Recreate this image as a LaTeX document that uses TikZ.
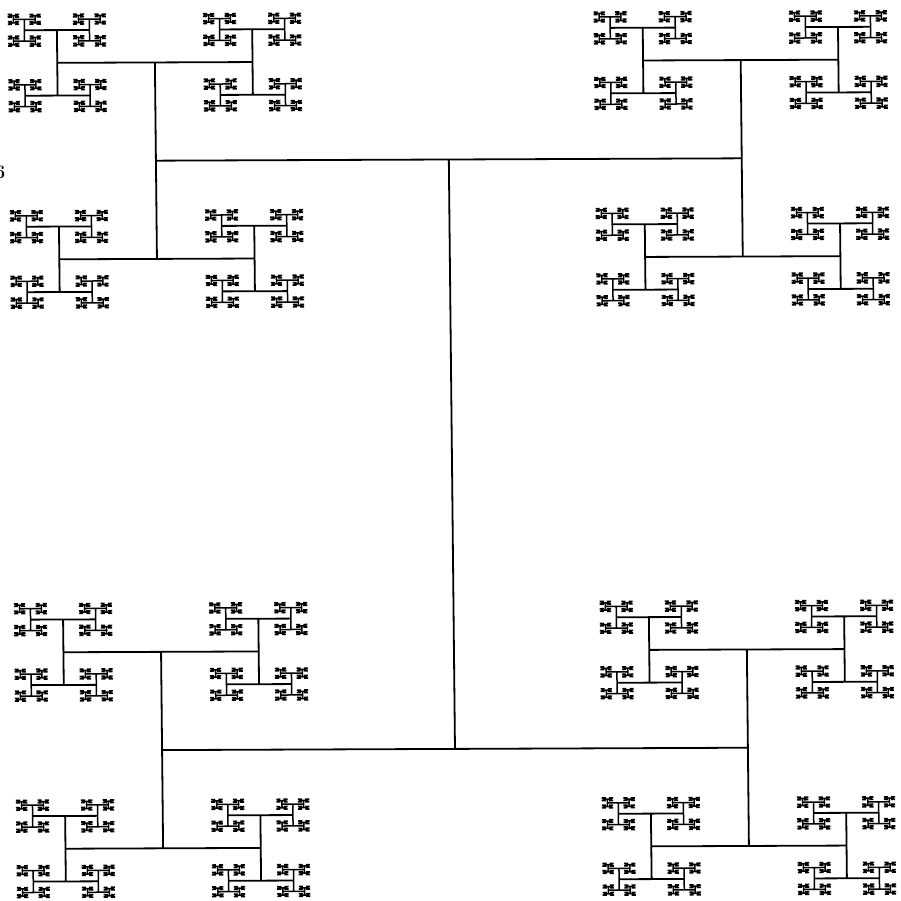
\documentclass[tikz,border=0pt]{standalone}
\tikzset{
  hbig/.style={line width=1.8pt, line cap=butt},
  hsmall/.style={line width=1.5pt, line cap=butt},
  htiny/.style={line width=1.7pt, line cap=rect},
  pagefrag/.style={font=\fontsize{19}{19}\selectfont\bfseries, inner sep=0pt}
}
\def\Htree#1#2#3#4{%
  \ifnum#4>2
    \draw[hbig] (#1,#2-#3) -- (#1,#2+#3) (#1-#3,#2-#3) -- (#1+#3,#2-#3) (#1-#3,#2+#3) -- (#1+#3,#2+#3);%
  \else
    \ifnum#4>0
      \draw[hsmall] (#1,#2-#3) -- (#1,#2+#3) (#1-#3,#2-#3) -- (#1+#3,#2-#3) (#1-#3,#2+#3) -- (#1+#3,#2+#3);%
    \else
      \draw[htiny] (#1,#2-#3) -- (#1,#2+#3) (#1-#3,#2-#3) -- (#1+#3,#2-#3) (#1-#3,#2+#3) -- (#1+#3,#2+#3);%
    \fi
  \fi
  \ifnum#4>0
    \begingroup
      \pgfmathsetmacro\hn{#3/3}%
      \pgfmathsetmacro\ul{#1-#3}\pgfmathsetmacro\ur{#1+#3}%
      \pgfmathsetmacro\vt{#2-#3}\pgfmathsetmacro\vb{#2+#3}%
      \pgfmathtruncatemacro\dn{#4-1}%
      \edef\next{\noexpand\Htree{\ul}{\vt}{\hn}{\dn}\noexpand\Htree{\ur}{\vt}{\hn}{\dn}\noexpand\Htree{\ul}{\vb}{\hn}{\dn}\noexpand\Htree{\ur}{\vb}{\hn}{\dn}}%
      \next
    \endgroup
  \fi}
\begin{document}
\begin{tikzpicture}[x=1pt,y=-1pt]
\useasboundingbox (0,0) rectangle (901,901);
\fill[white] (0,0) rectangle (901,901);
\node[pagefrag] (pg) at (0,172) {6};
\begin{scope}[shift={(451.9,454.2)},x={(292.9pt,1.18pt)},y={(3.08pt,-294.7pt)}]
\Htree{0}{0}{1}{5}
\end{scope}
\end{tikzpicture}
\end{document}
